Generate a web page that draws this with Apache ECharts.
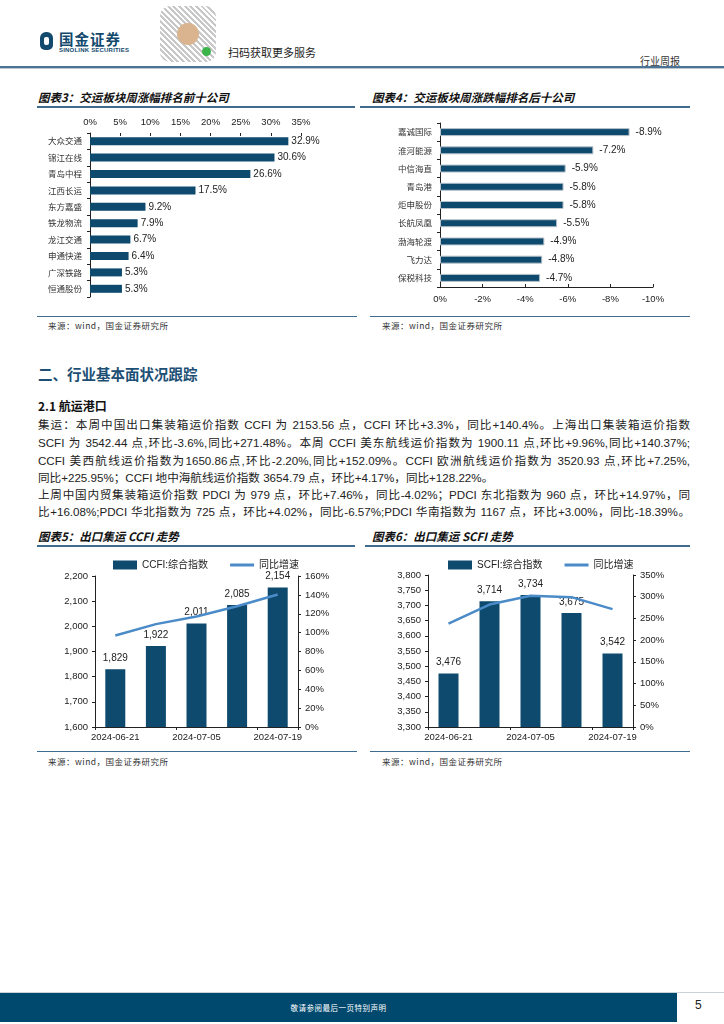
<!DOCTYPE html>
<html><head><meta charset="utf-8">
<script src="https://cdn.jsdelivr.net/npm/echarts@6/dist/echarts.min.js"></script>
<style>
*{margin:0;padding:0;box-sizing:border-box}
body{width:724px;height:1024px;position:relative;background:#fff;font-family:"Liberation Sans","Noto Sans CJK SC",sans-serif;color:#222;overflow:hidden}
.abs{position:absolute}
.ttl{font-size:11.5px;font-weight:bold;font-style:italic;color:#111;white-space:nowrap;font-family:"Noto Sans CJK SC","Liberation Sans",sans-serif}
.rule{position:absolute;height:1.5px;background:#3f6b8e}
.src{font-size:8.5px;color:#333;white-space:nowrap;font-family:"Noto Sans CJK SC",sans-serif;letter-spacing:0.5px}
.ln{position:absolute;left:38px;width:652px;font-size:11.6px;white-space:nowrap;text-align:justify;text-align-last:justify;font-family:"Liberation Sans Narrow","Liberation Sans","Noto Sans CJK SC",sans-serif;color:#222;line-height:14px}
.ln.last{text-align-last:left}
</style></head>
<body>
<!-- header -->
<div class="abs" style="left:40px;top:32px;width:13px;height:18px;background:#12496d;border-radius:6px 6px 5px 5px"></div>
<div class="abs" style="left:44px;top:37px;width:5px;height:8px;background:#fff;border-radius:2px"></div>
<div class="abs" style="left:59px;top:31px;font-size:14.5px;line-height:15px;font-weight:bold;color:#12496d;font-family:'Noto Sans CJK SC';letter-spacing:1px">国金证券</div>
<div class="abs" style="left:59px;top:47px;font-size:6px;line-height:6px;font-weight:bold;color:#12496d;letter-spacing:0.2px">SINOLINK SECURITIES</div>
<div class="abs" style="left:160px;top:6px;width:56px;height:56px;border-radius:10px;background:repeating-linear-gradient(45deg,#bbb 0 2px,#fff 2px 4px),#fff;opacity:0.8"></div>
<div class="abs" style="left:177px;top:23px;width:22px;height:22px;border-radius:11px;background:#d9b48f"></div>
<div class="abs" style="left:202px;top:47px;width:9px;height:9px;border-radius:5px;background:#3bb54a"></div>
<div class="abs" style="left:228px;top:44px;font-size:11px;color:#222;font-family:'Noto Sans CJK SC'">扫码获取更多服务</div>
<div class="abs" style="left:640px;top:53px;font-size:10px;color:#333;font-family:'Noto Sans CJK SC'">行业周报</div>
<div class="abs" style="left:0;top:66px;width:724px;height:2px;background:#4d7394"></div>
<div class="abs" style="left:0;top:68px;width:724px;height:1px;background:#b9c7d3"></div>

<!-- chart 3 / 4 titles -->
<div class="abs ttl" style="left:38px;top:89px">图表3：交运板块周涨幅排名前十公司</div>
<div class="rule" style="left:37px;top:106px;width:318px"></div>
<div class="abs ttl" style="left:372px;top:89px">图表4：交运板块周涨跌幅排名后十公司</div>
<div class="rule" style="left:360px;top:106px;width:330px"></div>
<div id="c3" class="abs" style="left:30px;top:110px;width:330px;height:200px"></div>
<div id="c4" class="abs" style="left:360px;top:110px;width:340px;height:205px"></div>
<div class="rule" style="left:37px;top:316px;width:320px;height:1px"></div>
<div class="abs src" style="left:48px;top:319px">来源：wind，国金证券研究所</div>
<div class="rule" style="left:370px;top:316px;width:320px;height:1px"></div>
<div class="abs src" style="left:382px;top:319px">来源：wind，国金证券研究所</div>

<!-- section text -->
<div class="abs" style="left:38px;top:363px;font-size:14.5px;font-weight:bold;color:#1d4f74;font-family:'Noto Sans CJK SC'">二、行业基本面状况跟踪</div>
<div class="abs" style="left:38px;top:397px;font-size:12px;font-weight:bold;color:#111;font-family:'Noto Sans CJK SC'">2.1 航运港口</div>
<div class="ln" style="top:418px">集运：本周中国出口集装箱运价指数 CCFI 为 2153.56 点，CCFI 环比+3.3%，同比+140.4%。上海出口集装箱运价指数</div>
<div class="ln" style="top:436px">SCFI 为 3542.44 点,环比-3.6%,同比+271.48%。本周 CCFI 美东航线运价指数为 1900.11 点,环比+9.96%,同比+140.37%;</div>
<div class="ln" style="top:454px">CCFI 美西航线运价指数为1650.86点,环比-2.20%,同比+152.09%。CCFI 欧洲航线运价指数为 3520.93 点,环比+7.25%,</div>
<div class="ln last" style="top:471px">同比+225.95%；CCFI 地中海航线运价指数 3654.79 点，环比+4.17%，同比+128.22%。</div>
<div class="ln" style="top:488px">上周中国内贸集装箱运价指数 PDCI 为 979 点，环比+7.46%，同比-4.02%；PDCI 东北指数为 960 点，环比+14.97%，同</div>
<div class="ln" style="top:505px">比+16.08%;PDCI 华北指数为 725 点，环比+4.02%，同比-6.57%;PDCI 华南指数为 1167 点，环比+3.00%，同比-18.39%。</div>

<!-- chart 5 / 6 titles -->
<div class="abs ttl" style="left:38px;top:528px">图表5：出口集运 CCFI 走势</div>
<div class="rule" style="left:37px;top:545px;width:318px"></div>
<div class="abs ttl" style="left:372px;top:528px">图表6：出口集运 SCFI 走势</div>
<div class="rule" style="left:365px;top:545px;width:325px"></div>
<div id="c5" class="abs" style="left:30px;top:550px;width:330px;height:200px"></div>
<div id="c6" class="abs" style="left:365px;top:550px;width:330px;height:200px"></div>
<div class="rule" style="left:37px;top:751px;width:320px;height:1px"></div>
<div class="abs src" style="left:48px;top:755px">来源：wind，国金证券研究所</div>
<div class="rule" style="left:370px;top:751px;width:320px;height:1px"></div>
<div class="abs src" style="left:382px;top:755px">来源：wind，国金证券研究所</div>

<!-- footer -->
<div class="abs" style="left:0;top:992px;width:724px;height:1px;background:#c9d3dc"></div>
<div class="abs" style="left:0;top:993px;width:677px;height:29px;background:#00496e"></div>
<div class="abs" style="left:0;top:1002px;width:677px;text-align:center;font-size:7.5px;color:#fff;font-family:'Noto Sans CJK SC';letter-spacing:0.5px">敬请参阅最后一页特别声明</div>
<div class="abs" style="left:695px;top:998px;font-size:12px;color:#222">5</div>

<script>
// ---- data ----
const topNames = ['大众交通','锦江在线','青岛中程','江西长运','东方嘉盛','铁龙物流','龙江交通','申通快递','广深铁路','恒通股份'];
const topValues = [32.9,30.6,26.6,17.5,9.2,7.9,6.7,6.4,5.3,5.3];
const bottomNames = ['嘉诚国际','淮河能源','中信海直','青岛港','炬申股份','长航凤凰','渤海轮渡','飞力达','保税科技'];
const bottomValues = [-8.9,-7.2,-5.9,-5.8,-5.8,-5.5,-4.9,-4.8,-4.7];
const weeks = ['2024-06-21','2024-06-28','2024-07-05','2024-07-12','2024-07-19'];
const ccfiIndex = [1829,1922,2011,2085,2154];
const ccfiYoY = [97,109,117,128,140.4];
const scfiIndex = [3476,3714,3734,3675,3542];
const scfiYoY = [238,282,302,299,271.5];

const BAR = '#0d4a6e', LINE = '#4a8bc8', AX = '#222';
const FF = 'Liberation Sans, Noto Sans CJK SC, sans-serif';
const CJK = 'Noto Sans CJK SC, sans-serif';
const fmtK = v => v.toLocaleString('en-US');

// chart 3
echarts.init(document.getElementById('c3')).setOption({
  animation:false,
  grid:{left:60,right:59,top:23,bottom:13},
  xAxis:{type:'value',position:'top',min:0,max:35,interval:5,
    axisLine:{show:false},axisTick:{show:true,inside:true,length:3,lineStyle:{color:AX}},
    splitLine:{show:false},
    axisLabel:{formatter:'{value}%',fontSize:9.5,color:'#222',fontFamily:FF,margin:6}},
  yAxis:{type:'category',data:topNames,inverse:true,
    axisLine:{show:true,lineStyle:{color:AX}},axisTick:{show:true,length:3,lineStyle:{color:AX}},
    axisLabel:{fontSize:8.5,color:'#333',fontFamily:CJK,margin:8}},
  series:[{type:'bar',data:topValues,barWidth:8,itemStyle:{color:BAR},
    label:{show:true,position:'right',distance:3,formatter:p=>p.value.toFixed(1)+'%',fontSize:10,color:'#222',fontFamily:FF}}]
});

// chart 4
echarts.init(document.getElementById('c4')).setOption({
  animation:false,
  grid:{left:80,right:47,top:13,bottom:28},
  xAxis:{type:'value',min:-10,max:0,interval:2,inverse:true,
    axisLine:{show:true,lineStyle:{color:AX}},axisTick:{show:true,inside:true,length:3,lineStyle:{color:AX}},
    splitLine:{show:false},
    axisLabel:{formatter:'{value}%',fontSize:9.5,color:'#222',fontFamily:FF,margin:8}},
  yAxis:{type:'category',data:bottomNames,inverse:true,
    axisLine:{show:true,lineStyle:{color:AX}},axisTick:{show:true,length:3,lineStyle:{color:AX}},
    axisLabel:{fontSize:8.5,color:'#333',fontFamily:CJK,margin:8}},
  series:[{type:'bar',data:bottomValues,barWidth:8,
    itemStyle:{color:BAR,borderColor:'#b9c3cc',borderWidth:1},
    label:{show:true,position:'right',distance:6,formatter:p=>p.value.toFixed(1)+'%',fontSize:10,color:'#222',fontFamily:FF}}]
});

function combo(id, names, barName, bars, yoy, lmin, lmax, lint, rmax, rint, grid){
  echarts.init(document.getElementById(id)).setOption({
    animation:false,
    legend:{top:5,left:78,itemWidth:24,itemHeight:9,itemGap:22,
      textStyle:{fontSize:10,color:'#222',fontFamily:FF},
      data:[{name:barName,icon:'rect'},{name:'同比增速',icon:'path://M0,0 L24,0 L24,3 L0,3 Z',itemStyle:{color:LINE}}]},
    grid:grid,
    xAxis:{type:'category',data:names,
      axisLine:{lineStyle:{color:AX}},axisTick:{show:true,length:3,lineStyle:{color:AX}},
      axisLabel:{interval:1,fontSize:9.5,color:'#222',fontFamily:FF,margin:6}},
    yAxis:[
      {type:'value',min:lmin,max:lmax,interval:lint,splitLine:{show:false},
        axisLine:{show:true,lineStyle:{color:AX}},axisTick:{show:true,length:3,lineStyle:{color:AX}},
        axisLabel:{formatter:v=>fmtK(v),fontSize:9.5,color:'#222',fontFamily:FF,margin:7}},
      {type:'value',min:0,max:rmax,interval:rint,splitLine:{show:false},
        axisLine:{show:true,lineStyle:{color:AX}},axisTick:{show:true,length:3,lineStyle:{color:AX}},
        axisLabel:{formatter:'{value}%',fontSize:9.5,color:'#222',fontFamily:FF,margin:7}}
    ],
    series:[
      {name:barName,type:'bar',data:bars,barWidth:20,itemStyle:{color:BAR},
        label:{show:true,position:'top',distance:6,formatter:p=>fmtK(p.value),fontSize:10,color:'#222',fontFamily:FF}},
      {name:'同比增速',type:'line',yAxisIndex:1,data:yoy,symbol:'none',lineStyle:{color:LINE,width:2.5},itemStyle:{color:LINE},z:5}
    ]
  });
}
combo('c5',weeks,'CCFI:综合指数',ccfiIndex,ccfiYoY,1600,2200,100,160,20,{left:65,right:62,top:26,bottom:23});
combo('c6',weeks,'SCFI:综合指数',scfiIndex,scfiYoY,3300,3800,50,350,50,{left:63,right:62,top:25,bottom:23});
</script>
</body></html>
